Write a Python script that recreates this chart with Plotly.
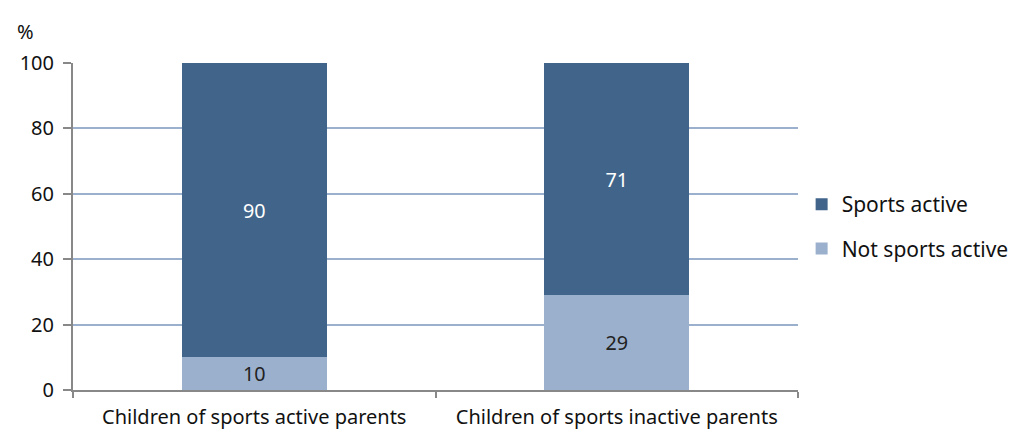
import plotly.graph_objects as go

categories = ["Children of sports active parents", "Children of sports inactive parents"]
not_active = [10, 29]
active = [90, 71]

fig = go.Figure()
fig.add_trace(go.Bar(
    x=categories, y=not_active, name="Not sports active",
    legendgroup="b", legendrank=2,
    marker=dict(color="#9BB0CC", line=dict(width=0)),
    text=not_active, textposition="inside", insidetextanchor="middle",
    textangle=0, textfont=dict(color="#222222", size=20),
))
fig.add_trace(go.Bar(
    x=categories, y=active, name="Sports active",
    legendgroup="a", legendrank=1,
    marker=dict(color="#41658A", line=dict(width=0)),
    text=active, textposition="inside", insidetextanchor="middle",
    textangle=0, textfont=dict(color="#ffffff", size=20),
))

fig.update_layout(
    barmode="stack",
    bargap=0.6,
    width=1033, height=434,
    margin=dict(l=64, r=243, t=55, b=50),
    paper_bgcolor="white", plot_bgcolor="white",
    font=dict(family="Noto Sans, Lato, sans-serif", size=20, color="#111111"),
    showlegend=True,
    legend=dict(x=1.005, y=0.5, yanchor="middle", xanchor="left",
                traceorder="grouped", font=dict(size=21),
                itemwidth=30, tracegroupgap=14),
    uniformtext=dict(mode="show", minsize=10),
)
fig.update_yaxes(
    range=[0, 100], dtick=20,
    showgrid=True, gridcolor="#9BB0CC", gridwidth=1.5,
    showline=True, linecolor="#888888", linewidth=2,
    ticks="outside", ticklen=8, tickcolor="#888888", tickwidth=2,
    zeroline=False, ticklabelstandoff=5,
)
fig.update_xaxes(
    showline=True, linecolor="#888888", linewidth=2,
    ticks="outside", ticklen=6, tickcolor="#888888", tickwidth=2,
    tickson="boundaries", ticklabelstandoff=8,
)
fig.add_annotation(text="%", xref="paper", yref="paper", x=-0.066, y=1.05,
                   xanchor="center", yanchor="bottom", showarrow=False,
                   font=dict(size=20))

fig.write_html("out.html")
